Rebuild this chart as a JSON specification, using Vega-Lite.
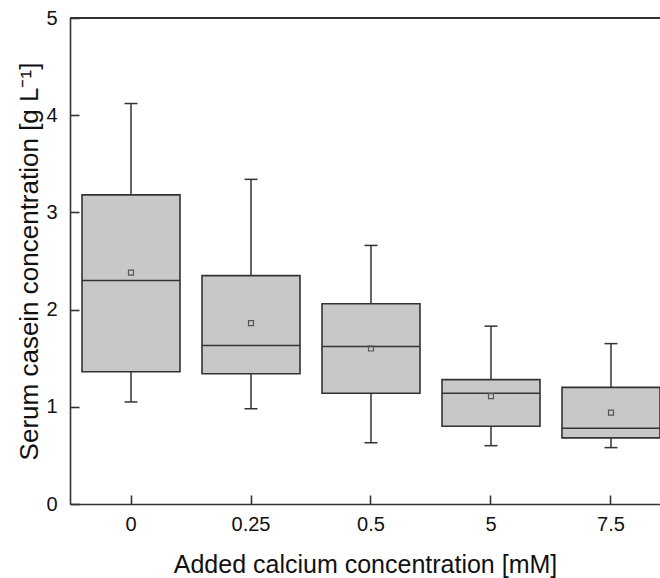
{
  "$schema": "https://vega.github.io/schema/vega-lite/v6.json",
  "width": 590,
  "height": 486,
  "autosize": {"type": "none"},
  "padding": {"left": 70, "top": 18, "right": 0, "bottom": 74},
  "background": "white",
  "config": {
    "view": {"stroke": null},
    "font": "Liberation Sans",
    "axis": {
      "domainColor": "#333333",
      "domainWidth": 1.6,
      "tickColor": "#333333",
      "tickWidth": 1.6,
      "grid": false,
      "labelFont": "Liberation Sans",
      "titleFont": "Liberation Sans",
      "labelColor": "#111111",
      "titleColor": "#111111",
      "labelFontSize": 20,
      "titleFontSize": 25,
      "titleFontWeight": "normal"
    }
  },
  "datasets": {
    "boxes": [
      {"ca": "0", "lo": 1.05, "q1": 1.36, "med": 2.3, "q3": 3.18, "hi": 4.12, "mean": 2.38},
      {"ca": "0.25", "lo": 0.98, "q1": 1.34, "med": 1.63, "q3": 2.35, "hi": 3.34, "mean": 1.86},
      {"ca": "0.5", "lo": 0.63, "q1": 1.14, "med": 1.62, "q3": 2.06, "hi": 2.66, "mean": 1.6},
      {"ca": "5", "lo": 0.6, "q1": 0.8, "med": 1.14, "q3": 1.28, "hi": 1.83, "mean": 1.11},
      {"ca": "7.5", "lo": 0.58, "q1": 0.68, "med": 0.78, "q3": 1.2, "hi": 1.65, "mean": 0.94}
    ]
  },
  "data": {"name": "boxes"},
  "layer": [
    {
      "mark": {"type": "bar", "fill": "#c8c8c8", "stroke": "#333333", "strokeWidth": 1.6},
      "encoding": {
        "x": {
          "field": "ca",
          "type": "nominal",
          "sort": ["0", "0.25", "0.5", "5", "7.5"],
          "scale": {"type": "band", "paddingInner": 0.1833, "paddingOuter": 0.05, "align": 1},
          "axis": {
            "title": "Added calcium concentration [mM]",
            "labelAngle": 0,
            "tickSize": -9,
            "labelPadding": 19,
            "titlePadding": 18
          }
        },
        "y": {
          "field": "q1",
          "type": "quantitative",
          "scale": {"domain": [0, 5]},
          "axis": {
            "title": "Serum casein concentration [g L⁻¹]",
            "titleFontSize": 26,
            "values": [0, 1, 2, 3, 4, 5],
            "format": "d",
            "ticks": true,
            "tickSize": -9,
            "labelPadding": 22,
            "titlePadding": 3
          }
        },
        "y2": {"field": "q3"}
      }
    },
    {
      "mark": {"type": "rule", "color": "#333333", "strokeWidth": 1.5},
      "encoding": {
        "x": {"field": "ca", "type": "nominal", "sort": ["0", "0.25", "0.5", "5", "7.5"]},
        "y": {"field": "lo", "type": "quantitative"},
        "y2": {"field": "q1"}
      }
    },
    {
      "mark": {"type": "rule", "color": "#333333", "strokeWidth": 1.5},
      "encoding": {
        "x": {"field": "ca", "type": "nominal", "sort": ["0", "0.25", "0.5", "5", "7.5"]},
        "y": {"field": "q3", "type": "quantitative"},
        "y2": {"field": "hi"}
      }
    },
    {
      "mark": {"type": "tick", "color": "#333333", "thickness": 1.5, "size": 13, "opacity": 1},
      "encoding": {
        "x": {"field": "ca", "type": "nominal", "sort": ["0", "0.25", "0.5", "5", "7.5"]},
        "y": {"field": "lo", "type": "quantitative"}
      }
    },
    {
      "mark": {"type": "tick", "color": "#333333", "thickness": 1.5, "size": 13, "opacity": 1},
      "encoding": {
        "x": {"field": "ca", "type": "nominal", "sort": ["0", "0.25", "0.5", "5", "7.5"]},
        "y": {"field": "hi", "type": "quantitative"}
      }
    },
    {
      "mark": {"type": "tick", "color": "#333333", "thickness": 1.6, "size": 98, "opacity": 1},
      "encoding": {
        "x": {"field": "ca", "type": "nominal", "sort": ["0", "0.25", "0.5", "5", "7.5"]},
        "y": {"field": "med", "type": "quantitative"}
      }
    },
    {
      "mark": {"type": "point", "shape": "square", "filled": false, "size": 25, "stroke": "#555555", "strokeWidth": 1.2, "opacity": 1},
      "encoding": {
        "x": {"field": "ca", "type": "nominal", "sort": ["0", "0.25", "0.5", "5", "7.5"]},
        "y": {"field": "mean", "type": "quantitative"}
      }
    },
    {
      "mark": {"type": "rule", "color": "#333333", "strokeWidth": 1.6},
      "encoding": {"y": {"datum": 5, "type": "quantitative"}}
    }
  ]
}
